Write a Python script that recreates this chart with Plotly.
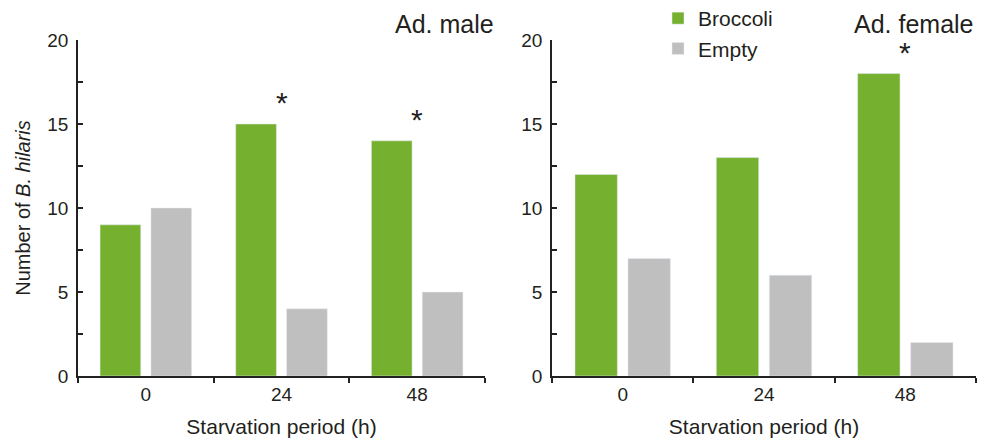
import plotly.graph_objects as go

periods = ["0", "24", "48"]
male_broccoli = [9, 15, 14]
male_empty = [10, 4, 5]
female_broccoli = [12, 13, 18]
female_empty = [7, 6, 2]
male_sig = [False, True, True]
female_sig = [False, False, True]
series_names = ["Broccoli", "Empty"]
panel_titles = ["Ad. male", "Ad. female"]

GREEN = "#76B02F"
GRAY = "#BFBFBF"
TXT = "#231F20"
FONT = "Liberation Sans, Arial, sans-serif"

fig = go.Figure()
fig.add_trace(go.Bar(x=periods, y=male_broccoli, name=series_names[0], marker_color=GREEN,
                     xaxis="x", yaxis="y", legendgroup="b", showlegend=True))
fig.add_trace(go.Bar(x=periods, y=male_empty, name=series_names[1], marker_color=GRAY,
                     xaxis="x", yaxis="y", legendgroup="e", showlegend=True))
fig.add_trace(go.Bar(x=periods, y=female_broccoli, name=series_names[0], marker_color=GREEN,
                     xaxis="x2", yaxis="y2", legendgroup="b", showlegend=False))
fig.add_trace(go.Bar(x=periods, y=female_empty, name=series_names[1], marker_color=GRAY,
                     xaxis="x2", yaxis="y2", legendgroup="e", showlegend=False))

# page body adds an 8px offset; work in figure pixels
OFF = 8
W, H = 990, 442
L, T = 78 - OFF, 40 - OFF
R = W - (976 - OFF)
B = H - (376 - OFF)
pw = W - L - R
ph = H - T - B


def px_x(px):
    return (px - OFF - L) / pw


def px_y(py):
    return 1 + (T - (py - OFF)) / ph


d1 = [0, px_x(485)]
d2 = [px_x(552), 1]

xcommon = dict(type="category", showline=True, linecolor="#222", linewidth=1.5,
               ticks="outside", ticklen=5, tickcolor="#222", tickwidth=1.5,
               tickson="boundaries", range=[-0.5, 2.5],
               tickfont=dict(size=19, color=TXT, family=FONT),
               title=dict(text="Starvation period (h)", font=dict(size=21, color=TXT, family=FONT), standoff=16),
               showgrid=False, zeroline=False, fixedrange=True, automargin=False)
ycommon = dict(range=[0, 20], dtick=5, showline=True, linecolor="#222", linewidth=1.5,
               ticks="inside", ticklen=5, tickcolor="#222", tickwidth=1.5,
               minor=dict(dtick=2.5, ticks="inside", ticklen=5, tickcolor="#222", tickwidth=1.5),
               tickfont=dict(size=19, color=TXT, family=FONT), ticklabelstandoff=4,
               showgrid=False, zeroline=False, fixedrange=True, automargin=False)

fig.update_layout(
    width=W, height=H,
    margin=dict(l=L, r=R, t=T, b=B, autoexpand=False),
    paper_bgcolor="white", plot_bgcolor="white",
    barmode="group", bargap=0.25, bargroupgap=0.2,
    font=dict(family=FONT, color=TXT),
    xaxis=dict(domain=d1, anchor="y", **xcommon),
    yaxis=dict(domain=[0, 1], anchor="x",
               title=dict(text="Number of <i>B. hilaris</i>", font=dict(size=20, color=TXT, family=FONT), standoff=11),
               **ycommon),
    xaxis2=dict(domain=d2, anchor="y2", **xcommon),
    yaxis2=dict(domain=[0, 1], anchor="x2", **ycommon),
    legend=dict(x=px_x(658), y=px_y(-2), xanchor="left", yanchor="top",
                font=dict(size=21, color=TXT, family=FONT), bgcolor="rgba(0,0,0,0)",
                traceorder="grouped", tracegroupgap=0, itemwidth=30),
    showlegend=True,
)

for xa, ya, vals, sig in [("x", "y", male_broccoli, male_sig), ("x2", "y2", female_broccoli, female_sig)]:
    for i, (v, s) in enumerate(zip(vals, sig)):
        if s:
            fig.add_annotation(x=i, y=v + 0.15, xref=xa, yref=ya, text="*", showarrow=False,
                               xanchor="center", yanchor="bottom",
                               font=dict(size=30, color=TXT, family=FONT))

fig.add_annotation(x=px_x(496), y=px_y(24), xref="paper", yref="paper",
                   text=panel_titles[0], showarrow=False, xanchor="right", yanchor="middle",
                   font=dict(size=25, color=TXT, family=FONT))
fig.add_annotation(x=px_x(976), y=px_y(24), xref="paper", yref="paper",
                   text=panel_titles[1], showarrow=False, xanchor="right", yanchor="middle",
                   font=dict(size=25, color=TXT, family=FONT))

fig.write_html("out.html")
